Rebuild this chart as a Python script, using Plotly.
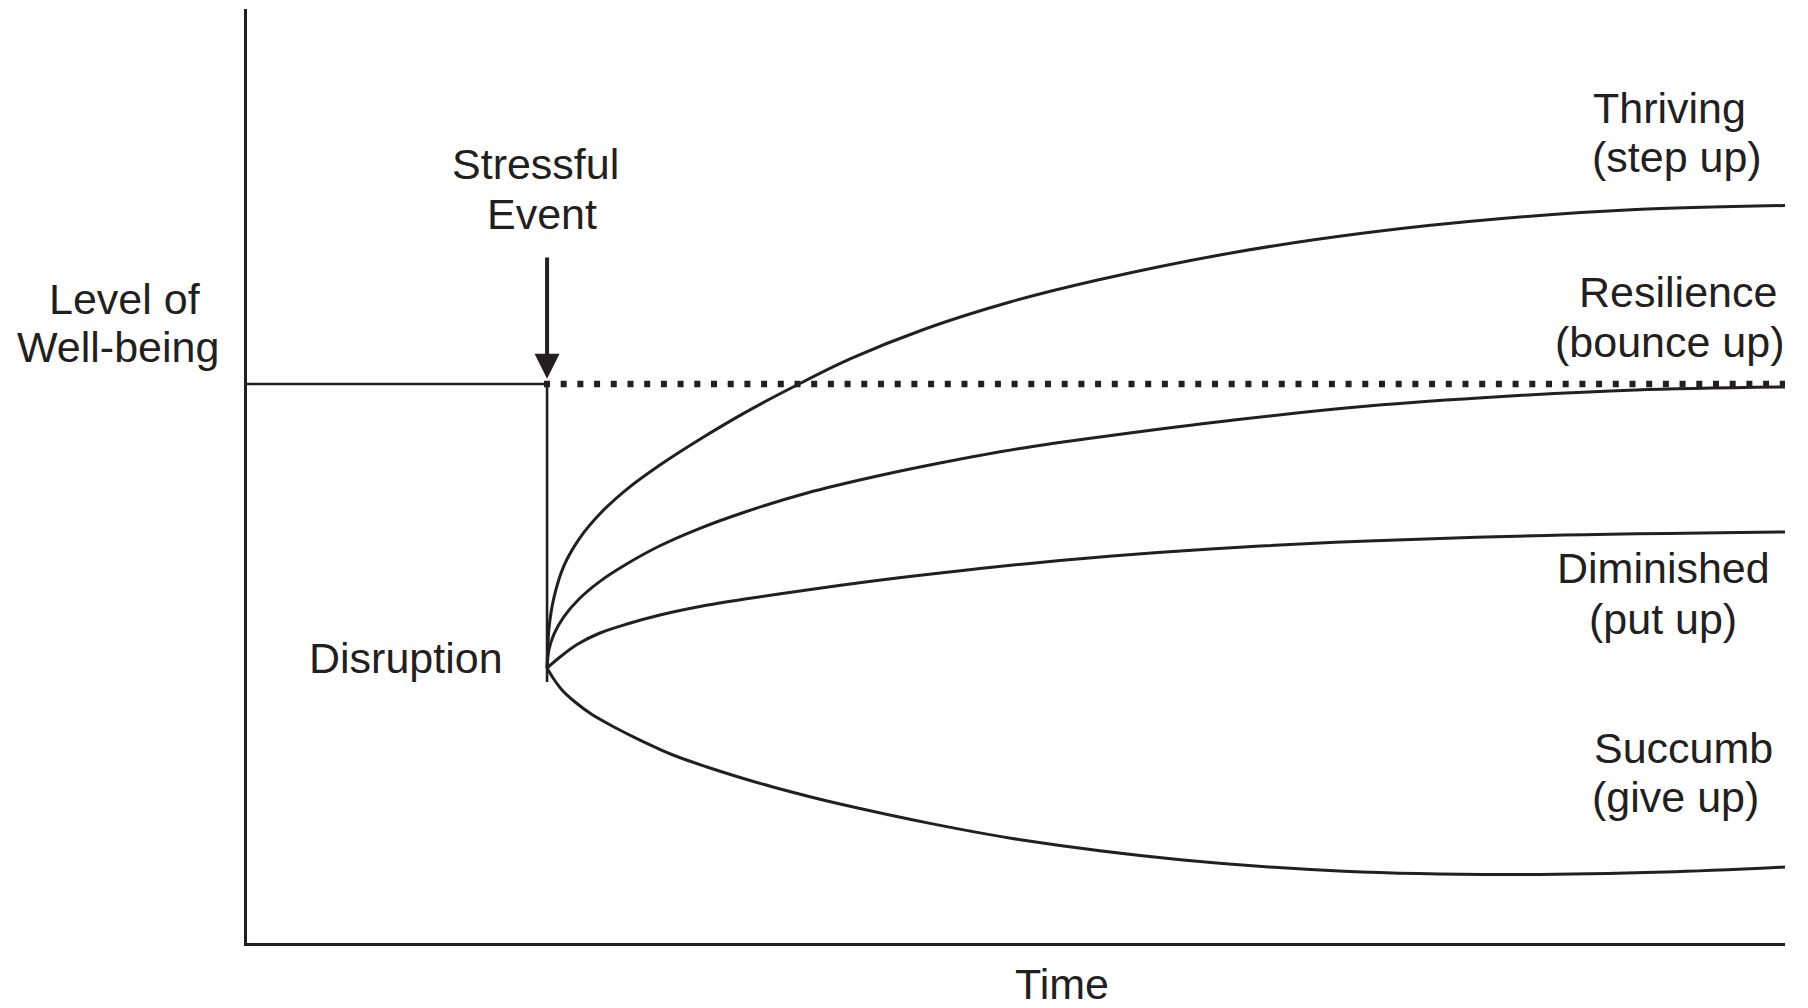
import plotly.graph_objects as go

# ---------------- data (time 0-100, well-being 0-100) ----------------
event_time = 19.51
baseline_level = 59.85
drop_bottom = 27.94

thriving_t = [19.51, 19.64, 19.96, 20.61, 21.59, 22.95, 24.71, 26.85, 29.45, 32.38, 35.76,
              39.21, 44.08, 49.61, 55.46, 64.17, 72.89, 81.60, 90.31, 100.0]
thriving_w = [29.44, 33.76, 37.00, 40.40, 43.25, 45.96, 48.60, 51.18, 53.94, 56.79, 59.74,
              62.53, 65.74, 68.63, 71.04, 73.93, 76.07, 77.57, 78.53, 78.96]

resilience_t = [19.51, 19.64, 19.96, 20.61, 21.59, 22.95, 24.71, 26.85, 29.45, 32.38, 36.41, 40.70,
                45.06, 50.26, 55.46, 64.17, 72.89, 81.60, 90.31, 100.0]
resilience_w = [29.44, 31.45, 33.07, 34.94, 36.83, 38.72, 40.60, 42.53, 44.40, 46.15, 48.18, 49.89,
                51.39, 52.95, 54.18, 56.00, 57.49, 58.51, 59.21, 59.53]

diminished_t = [19.51, 20.35, 21.46, 22.95, 24.71, 26.85, 29.45, 32.38, 36.41, 40.70, 45.06, 47.66,
                52.86, 59.23, 65.87, 72.89, 84.46, 100.0]
diminished_w = [29.44, 30.62, 31.96, 33.19, 34.15, 35.12, 36.03, 36.83, 37.79, 38.76, 39.61, 40.10,
                40.95, 41.81, 42.51, 43.04, 43.63, 44.00]

succumb_t = [19.51, 19.90, 20.48, 21.33, 22.43, 23.86, 25.55, 27.70, 29.91, 32.06, 34.20, 36.41,
             38.56, 44.41, 50.39, 60.86, 71.33, 81.80, 92.20, 100.0]
succumb_w = [29.44, 28.37, 27.09, 25.80, 24.46, 23.13, 21.73, 20.13, 18.84, 17.72, 16.70, 15.74,
             14.88, 12.81, 11.03, 8.89, 7.68, 7.33, 7.60, 8.14]

axis_title_x = "Time"
axis_title_y = ["Level of", "Well-being"]
event_label = ["Stressful", "Event"]
disruption_label = "Disruption"
outcome_labels = [
    ["Thriving", "(step up)"],
    ["Resilience", "(bounce up)"],
    ["Diminished", "(put up)"],
    ["Succumb", "(give up)"],
]

# ---------------- figure ----------------
INK = "#231f20"
FONT = "Liberation Sans, Arial, Helvetica, sans-serif"
FS = 43

fig = go.Figure()

def line(x, y, width=2.8, dash="solid", shape="linear"):
    fig.add_trace(go.Scatter(x=x, y=y, mode="lines", hoverinfo="skip", showlegend=False,
                             line=dict(color=INK, width=width, dash=dash, shape=shape,
                                       smoothing=0.9 if shape == "spline" else None)))

# pre-event baseline and the drop
line([0, event_time], [baseline_level, baseline_level], width=2.6)
line([event_time, event_time], [baseline_level, drop_bottom], width=2.6)
# dotted continuation of the baseline
line([event_time - 0.2, 100], [baseline_level, baseline_level], width=6.5, dash="6px,10.7px")

# outcome trajectories
for tx, wy in [(thriving_t, thriving_w), (resilience_t, resilience_w),
               (diminished_t, diminished_w), (succumb_t, succumb_w)]:
    line(tx, wy, width=3.0, shape="spline")

annotations = []

def label(text, x, y):
    # positions given in the same 0-100 units as the data, placed on the paper
    annotations.append(dict(text=text, x=x / 100, y=y / 100, xref="paper", yref="paper",
                            showarrow=False, xanchor="center", yanchor="middle",
                            font=dict(family=FONT, size=FS, color=INK)))

label(axis_title_y[0], -7.95, 68.95)
label(axis_title_y[1], -8.42, 63.81)
label(event_label[0], 18.79, 83.40)
label(event_label[1], 19.18, 78.05)
label(disruption_label, 10.34, 30.51)
label(axis_title_x, 52.99, -4.44)

outcome_pos = [
    [(92.52, 89.40), (92.98, 84.15)],
    [(93.04, 69.65), (92.52, 64.35)],
    [(92.07, 40.10), (92.07, 34.69)],
    [(93.37, 20.93), (92.85, 15.63)],
]
for lines, pos in zip(outcome_labels, outcome_pos):
    for txt, (px, py) in zip(lines, pos):
        label(txt, px, py)

# the stressful-event arrow
annotations.append(dict(x=event_time, y=60.4, ax=event_time, ay=73.55,
                        xref="x", yref="y", axref="x", ayref="y",
                        text="", showarrow=True, arrowhead=2, arrowsize=1.25,
                        arrowwidth=4, arrowcolor=INK))

fig.update_layout(
    width=1808, height=1008,
    margin=dict(l=247, r=23, t=9, b=65, pad=0),
    paper_bgcolor="white", plot_bgcolor="white",
    annotations=annotations,
    xaxis=dict(range=[0, 100], showgrid=False, zeroline=False, showticklabels=False,
               ticks="", showline=True, linecolor=INK, linewidth=2.8, fixedrange=True),
    yaxis=dict(range=[0, 100], showgrid=False, zeroline=False, showticklabels=False,
               ticks="", showline=True, linecolor=INK, linewidth=2.8, fixedrange=True),
)

fig.write_html("out.html", config={"displayModeBar": False},
               post_script="document.body.style.margin='0';document.body.style.overflow='hidden';")
